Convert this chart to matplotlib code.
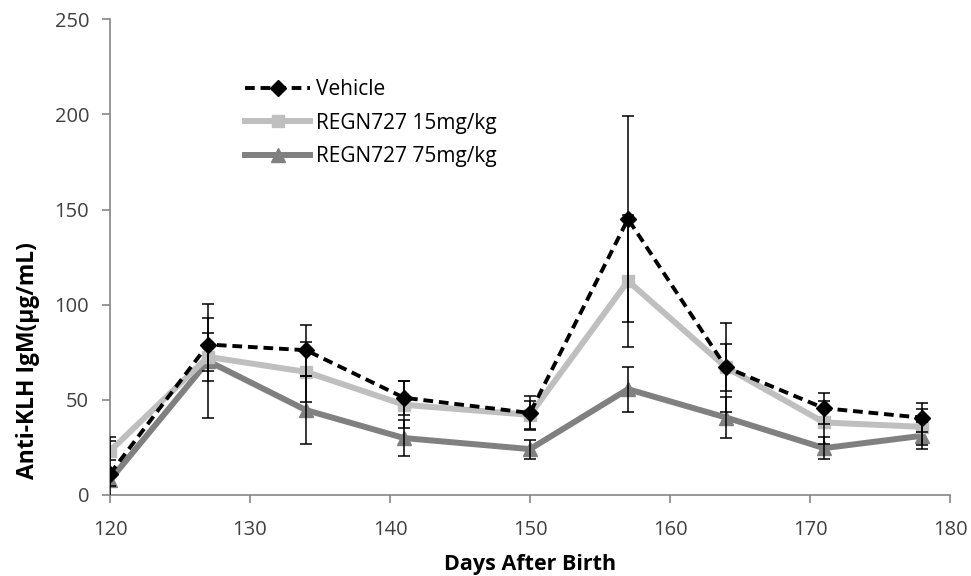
import matplotlib
matplotlib.use("Agg")
import matplotlib.pyplot as plt

# days after birth
days = [120, 127, 134, 141, 150, 157, 164, 171, 178]

# anti-KLH IgM (ug/mL), mean and error
vehicle = [11, 79, 76, 51, 43, 145, 67, 45.5, 40.5]
vehicle_err = [19.5, 14, 13.3, 9, 9, 54, 23.5, 8.2, 7.6]

regn15 = [23, 72.5, 64.6, 47.3, 42, 112.4, 67, 38, 35.7]
regn15_err = [5, 12.8, 15.8, 12.3, 7.5, 34.5, 12.5, 11.4, 9.3]

regn75 = [7.7, 70.3, 44.5, 29.8, 24, 55.5, 40.6, 24.5, 31]
regn75_err = [3, 30, 18, 9.3, 5, 11.8, 10.8, 5.7, 7]

plt.rcParams['font.family'] = ['Open Sans', 'DejaVu Sans']

fig = plt.figure(figsize=(9.71, 5.76), dpi=100)
ax = fig.add_axes([0.1133, 0.1411, 0.8651, 0.8253])

err_kw = dict(fmt='none', ecolor='black', elinewidth=1.1, capsize=4.5, capthick=1.1)

# lines
l75, = ax.plot(days, regn75, color='#808080', lw=4.3, marker='^', markersize=10,
               label='REGN727 75mg/kg', zorder=2)
l15, = ax.plot(days, regn15, color='#BFBFBF', lw=4.3, marker='s', markersize=9,
               label='REGN727 15mg/kg', zorder=3)
lv, = ax.plot(days, vehicle, color='black', lw=2.8, ls=(0, (2.5, 1.5)),
              marker='D', markersize=8, label='Vehicle', zorder=4)

# error bars
ax.errorbar(days, regn75, yerr=regn75_err, zorder=5, **err_kw)
ax.errorbar(days, regn15, yerr=regn15_err, zorder=5, **err_kw)
ax.errorbar(days, vehicle, yerr=vehicle_err, zorder=5, **err_kw)

ax.set_xlim(120, 180)
ax.set_ylim(0, 250)
ax.set_xticks(range(120, 181, 10))
ax.set_yticks(range(0, 251, 50))

for s in ['top', 'right']:
    ax.spines[s].set_visible(False)
for s in ['left', 'bottom']:
    ax.spines[s].set_color('#868686')
    ax.spines[s].set_linewidth(1.2)
ax.tick_params(axis='both', colors='#868686', labelcolor='#404040',
               labelsize=14.5, length=6, width=1.2)
ax.tick_params(axis='x', pad=12)
ax.tick_params(axis='y', pad=9)

ax.set_xlabel('Days After Birth', fontsize=15.5, fontweight='bold', labelpad=10)
ax.set_ylabel('Anti-KLH IgM(\u00b5g/mL)', fontsize=16.5, fontweight='bold')
ax.yaxis.set_label_coords(-0.083, 0.283)

ax.legend([lv, l15, l75], ['Vehicle', 'REGN727 15mg/kg', 'REGN727 75mg/kg'],
          loc='upper left', bbox_to_anchor=(0.161, 0.874), frameon=False,
          borderaxespad=0, borderpad=0,
          fontsize=15, handlelength=3.1, handletextpad=0.3, labelspacing=0.6)

fig.savefig('out.png', dpi=100)
